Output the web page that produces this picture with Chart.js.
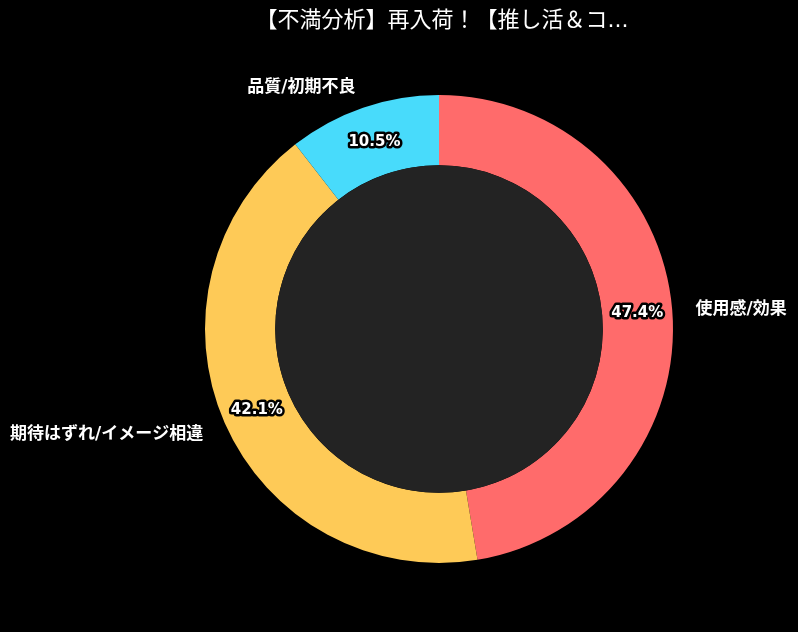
<!DOCTYPE html>
<html>
<head>
<meta charset="utf-8">
<script src="https://cdn.jsdelivr.net/npm/chart.js@4"></script>
<style>
  html, body { margin: 0; padding: 0; background: #000; }
  canvas { display: block; }
</style>
</head>
<body>
<canvas id="chart" width="798" height="632"></canvas>
<script>
// Chart data
const titleText = "【不満分析】再入荷！【推し活＆コ...";
const categories = ["使用感/効果", "期待はずれ/イメージ相違", "品質/初期不良"];
const counts = [9, 8, 2];
const sliceColors = ["#FF6B6B", "#FECA57", "#48DBFB"];

const FONT = '"DejaVu Sans", "Noto Sans CJK JP", sans-serif';

// Title, center hole and labels drawn on top of the ring
const labelPlugin = {
  id: "labelPlugin",
  afterDatasetsDraw(chart) {
    const ctx = chart.ctx;
    const arcs = chart.getDatasetMeta(0).data;
    const total = counts.reduce((a, b) => a + b, 0);

    ctx.save();
    // center hole
    const a0 = arcs[0];
    ctx.beginPath();
    ctx.arc(a0.x, a0.y, a0.innerRadius, 0, Math.PI * 2);
    ctx.fillStyle = "#232323";
    ctx.fill();

    arcs.forEach((arc, i) => {
      const mid = (arc.startAngle + arc.endAngle) / 2;
      const cos = Math.cos(mid);
      const sin = Math.sin(mid);

      // percentage in the ring
      const rp = (arc.innerRadius + arc.outerRadius) / 2;
      const px = arc.x + rp * cos;
      const py = arc.y + rp * sin + 1;
      const pct = ((counts[i] / total) * 100).toFixed(1) + "%";
      ctx.font = "bold 15px " + FONT;
      ctx.textAlign = "center";
      ctx.textBaseline = "middle";
      ctx.lineJoin = "round";
      ctx.lineWidth = 5;
      ctx.strokeStyle = "#000";
      ctx.strokeText(pct, px, py);
      ctx.fillStyle = "#fff";
      ctx.fillText(pct, px, py);

      // category outside
      const ro = arc.outerRadius * 1.1;
      const lx = arc.x + ro * cos;
      const ly = arc.y + ro * sin + 2;
      ctx.font = "bold 17px " + FONT;
      ctx.textAlign = cos >= 0 ? "left" : "right";
      ctx.fillStyle = "#fff";
      ctx.fillText(categories[i], lx, ly);
    });

    // title
    ctx.font = "22px " + FONT;
    ctx.textAlign = "center";
    ctx.textBaseline = "middle";
    ctx.fillStyle = "#fff";
    ctx.fillText(titleText, 442, 21);
    ctx.restore();
  }
};

new Chart(document.getElementById("chart"), {
  type: "doughnut",
  data: {
    labels: categories,
    datasets: [{
      data: counts,
      backgroundColor: sliceColors,
      borderWidth: 0
    }]
  },
  options: {
    responsive: false,
    animation: false,
    cutout: "70%",
    layout: { padding: { top: 95, bottom: 69, left: 205, right: 125 } },
    plugins: {
      legend: { display: false },
      tooltip: { enabled: false },
      title: { display: false }
    }
  },
  plugins: [labelPlugin]
});
</script>
</body>
</html>
